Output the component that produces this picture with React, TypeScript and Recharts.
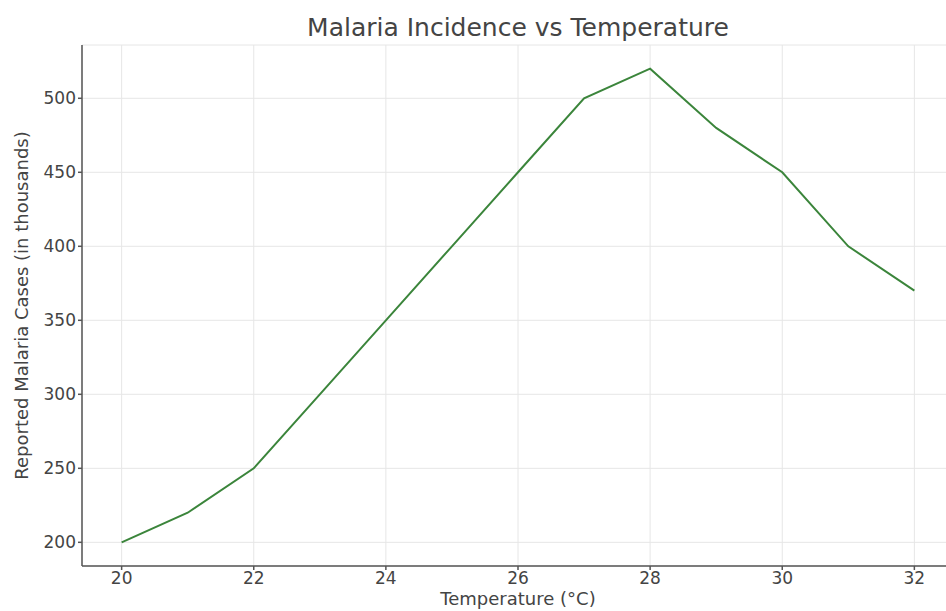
import { LineChart, Line, XAxis, YAxis, CartesianGrid } from 'recharts';

const temperatures = [20, 21, 22, 23, 24, 25, 26, 27, 28, 29, 30, 31, 32];
const cases = [200, 220, 250, 300, 350, 400, 450, 500, 520, 480, 450, 400, 370];
const xTicks = [20, 22, 24, 26, 28, 30, 32];
const yTicks = [200, 250, 300, 350, 400, 450, 500];

const data = temperatures.map((t, i) => ({ temp: t, cases: cases[i] }));

const font = '"DejaVu Sans", sans-serif';

export default function App() {
    return (
        <div style={{ position: 'absolute', left: 0, top: 0, width: 946, height: 611, overflow: 'hidden', background: '#fff', fontFamily: font }}>
            <div style={{ position: 'absolute', left: 0, width: 1036, top: 14, textAlign: 'center', fontSize: 25, color: '#444', lineHeight: '28px' }}>
                Malaria Incidence vs Temperature
            </div>
            <LineChart width={960} height={611} data={data} margin={{ top: 45, right: 6, left: 0, bottom: 15 }}>
                <CartesianGrid stroke="#e6e6e6" strokeWidth={1} />
                <XAxis
                    dataKey="temp"
                    type="number"
                    domain={[19.4, 32.6]}
                    ticks={xTicks}
                    allowDataOverflow
                    height={30}
                    stroke="#555"
                    strokeWidth={1.5}
                    tickSize={4}
                    tick={{ fill: '#444', fontSize: 17, fontFamily: font }}
                    label={{ value: 'Temperature (°C)', position: 'bottom', offset: -4, fill: '#444', fontSize: 18, fontFamily: font }}
                />
                <YAxis
                    type="number"
                    domain={[184, 536]}
                    ticks={yTicks}
                    allowDataOverflow
                    width={82}
                    stroke="#555"
                    strokeWidth={1.5}
                    tickSize={4}
                    tick={{ fill: '#444', fontSize: 17, fontFamily: font }}
                    label={{ value: 'Reported Malaria Cases (in thousands)', angle: -90, position: 'insideLeft', offset: 22, fill: '#444', fontSize: 18, fontFamily: font, style: { textAnchor: 'middle' } }}
                />
                <Line
                    type="linear"
                    dataKey="cases"
                    stroke="#3b853b"
                    strokeWidth={2}
                    dot={false}
                    isAnimationActive={false}
                />
            </LineChart>
        </div>
    );
}
